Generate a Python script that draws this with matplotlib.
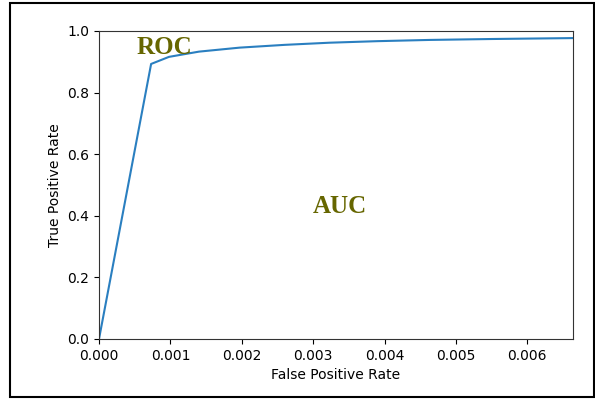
import matplotlib
matplotlib.use('Agg')
import matplotlib.pyplot as plt
from matplotlib.patches import Rectangle

# ROC curve points
fpr = [0.0, 0.00073, 0.00098, 0.0014, 0.00197, 0.0026, 0.00323, 0.0039, 0.00463, 0.0055, 0.00664]
tpr = [0.0, 0.893, 0.916, 0.933, 0.946, 0.955, 0.962, 0.967, 0.971, 0.974, 0.977]
x_ticks = [0.000, 0.001, 0.002, 0.003, 0.004, 0.005, 0.006]
y_ticks = [0.0, 0.2, 0.4, 0.6, 0.8, 1.0]

fig = plt.figure(figsize=(5.95, 3.99), dpi=100)
ax = fig.add_axes([99 / 595, 1 - 339 / 399, (573 - 99) / 595, (339 - 31) / 399])

ax.plot(fpr, tpr, color='#2a7fc0', linewidth=1.5)
ax.set_xlim(0, 0.00664)
ax.set_ylim(0, 1.0)
ax.set_xticks(x_ticks)
ax.set_xticklabels([f'{t:.3f}' for t in x_ticks])
ax.set_yticks(y_ticks)
ax.set_yticklabels([f'{t:.1f}' for t in y_ticks])
ax.set_xlabel('False Positive Rate')
ax.set_ylabel('True Positive Rate')
for s in ax.spines.values():
    s.set_edgecolor('#333333')

olive = '#666600'
ax.text(0.00052, 0.948, 'ROC', color=olive, fontsize=18, fontweight='bold',
        family='Liberation Serif', va='center', ha='left')
ax.text(0.00300, 0.43, 'AUC', color=olive, fontsize=18, fontweight='bold',
        family='Liberation Serif', va='center', ha='left')

# black frame around the whole picture
fig.patches.append(Rectangle((10 / 595, 2 / 399), 584 / 595, 394 / 399,
                             transform=fig.transFigure, fill=False,
                             edgecolor='black', linewidth=1.5))

fig.savefig('out.png', dpi=100)
